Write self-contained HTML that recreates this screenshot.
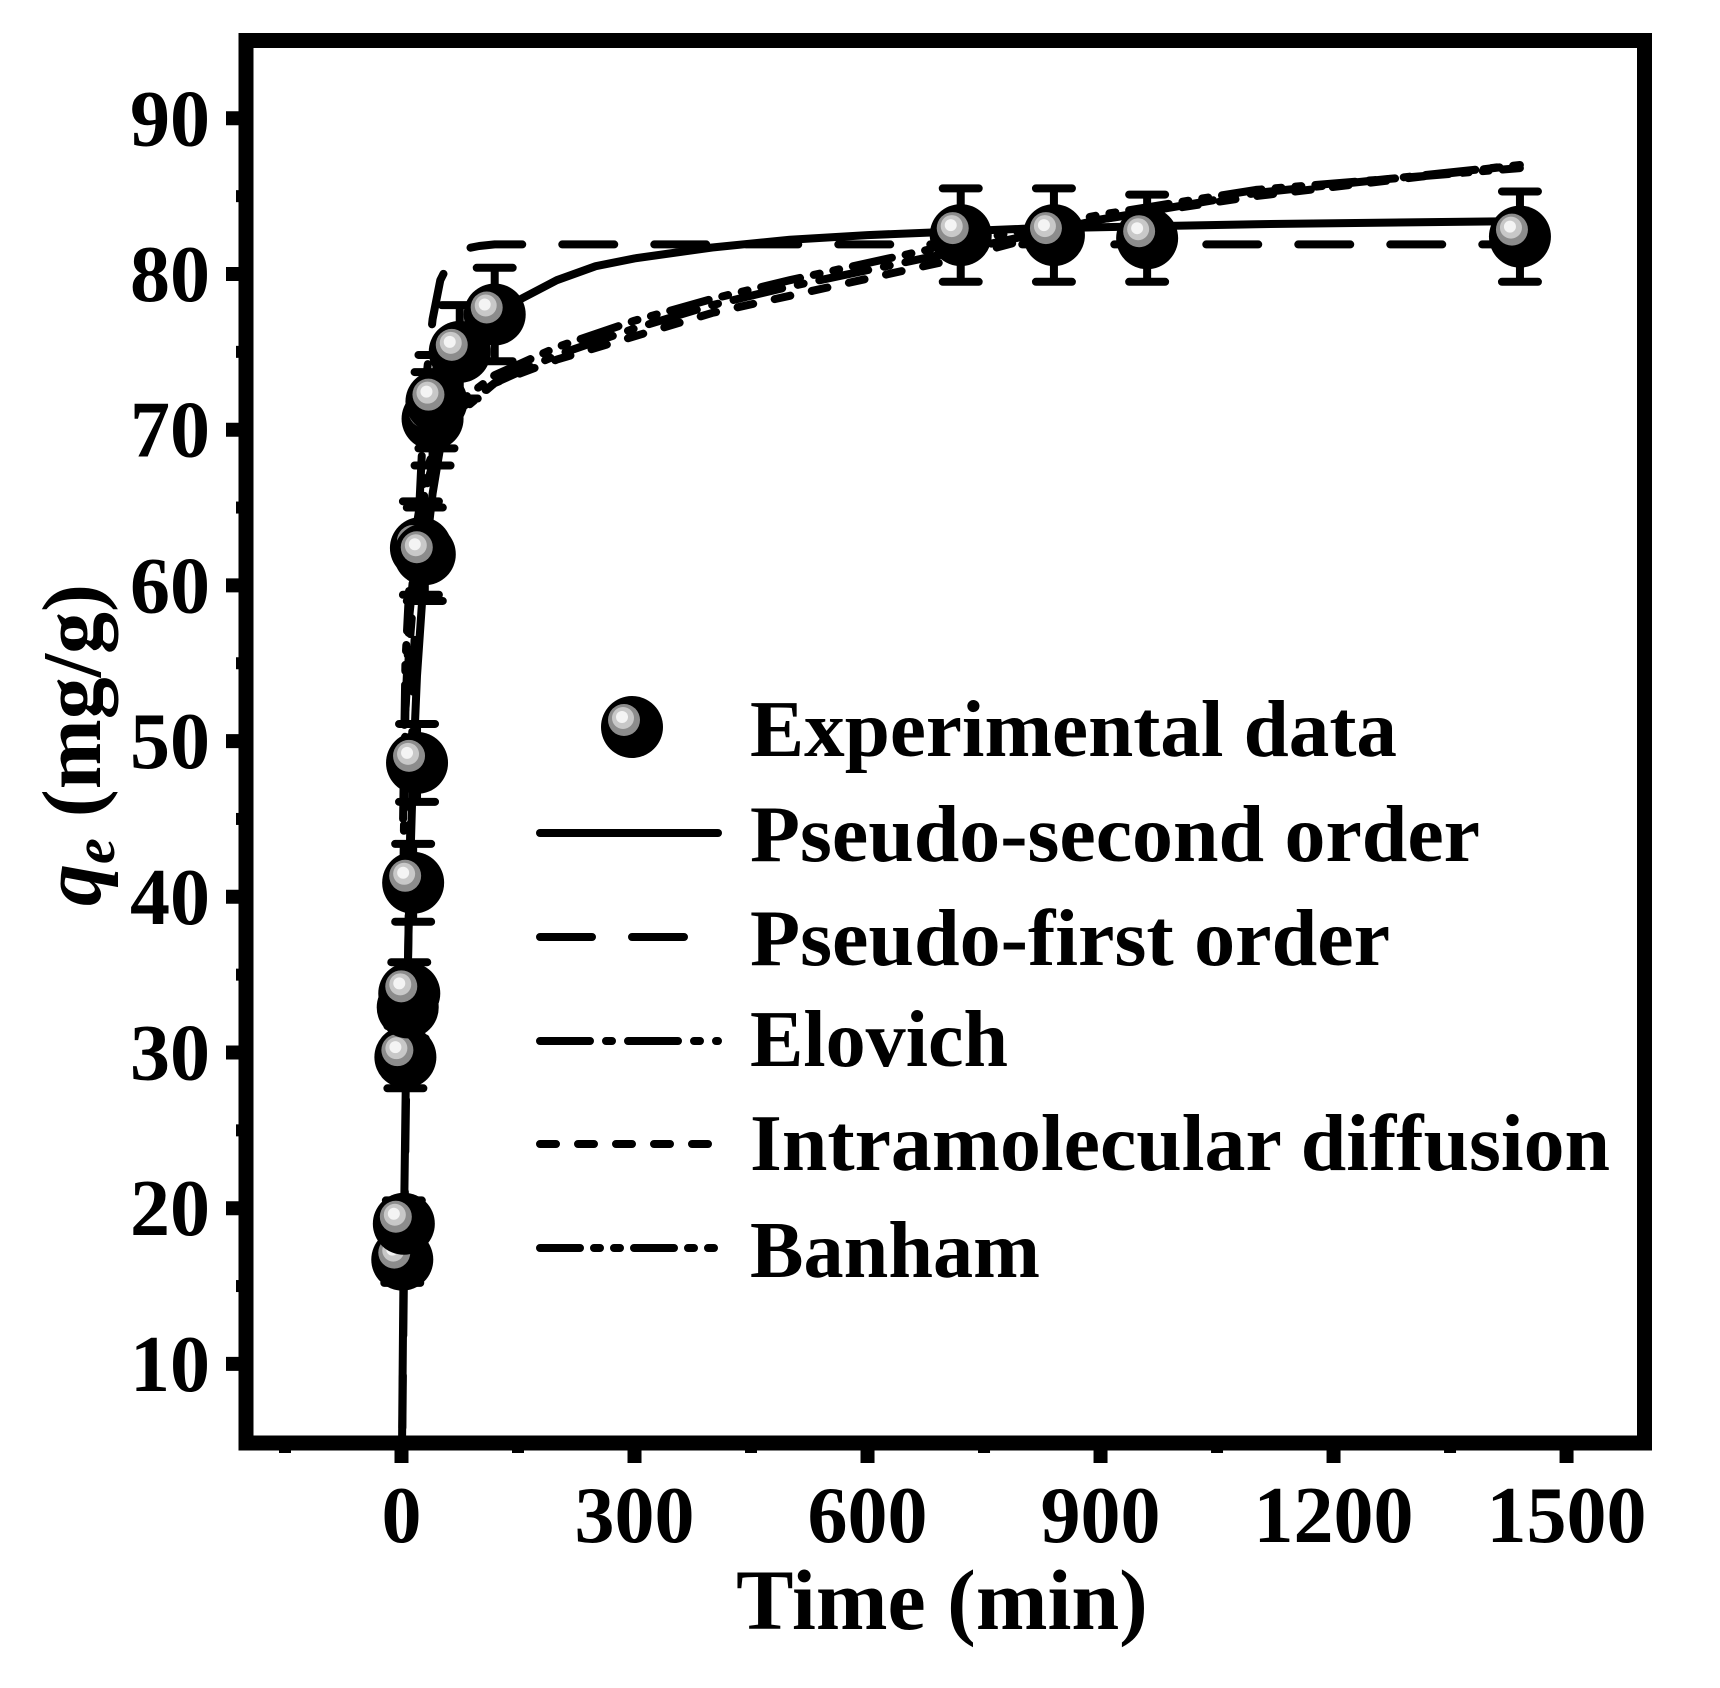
<!DOCTYPE html>
<html><head><meta charset="utf-8"><style>
html,body{margin:0;padding:0;background:#fff;}
svg{display:block;font-family:"Liberation Serif",serif;font-weight:bold;}
</style></head><body>
<svg id="chart" width="1720" height="1688" viewBox="0 0 1720 1688" xmlns="http://www.w3.org/2000/svg">
<defs>
<clipPath id="plotclip"><rect x="253" y="48" width="1384" height="1388"/></clipPath>
</defs>
<g id="grid-ticks"></g>
<g id="curves" clip-path="url(#plotclip)"></g>
<g id="points"></g>
<rect x="246" y="40.5" width="1398.5" height="1402.5" fill="none" stroke="#000" stroke-width="15"/>
<text x="942" y="1629" font-size="86" text-anchor="middle">Time (min)</text>
<text transform="translate(100,745) rotate(-90)" font-size="84" text-anchor="middle"><tspan font-style="italic">q</tspan><tspan font-style="italic" font-size="58" dy="14">e</tspan><tspan dy="-14"> (mg/g)</tspan></text>
<g id="legend"></g>
</svg>
<script>
const xTicks=[0,300,600,900,1200,1500];
const xMinor=[-150,150,450,750,1050,1350];
const yTicks=[10,20,30,40,50,60,70,80,90];
const yMinor=[15,25,35,45,55,65,75,85];
const expT=[1,3,5,8,10,15,20,25,30,40,45,75,120,720,840,960,1440];
const expQ=[16.7,19.0,29.7,32.9,33.8,40.9,48.6,62.4,62.0,70.7,71.8,75.0,77.4,82.5,82.5,82.3,82.4];
const expErr=[1.5,1.5,2,2,2,2.5,2.5,3,3,3,3,3,3,3,3,2.8,2.9];
const psoT=[0,1,2,3,5,7,10,15,20,30,40,50,65,80,100,120,150,200,250,300,400,500,600,800,1100,1440];
const psoQ=[0,7.0,12.9,18.0,26.2,32.7,40,48.5,54.2,61.5,65.9,68.9,71.8,73.8,75.7,77,78.3,79.6,80.5,81.0,81.7,82.2,82.5,82.9,83.2,83.4];
const pfoT=[0,2,5,10,15,20,30,40,50,65,80,100,120,400,800,1440];
const pfoQ=[0,10.7,24.2,41.4,53.6,62.0,72.4,77.1,79.6,81.1,81.6,81.8,81.9,81.9,81.9,81.9];
const eloT=[2,5,10,20,30,50,80,120,200,300,400,500,700,900,1100,1440];
const eloQ=[40,52,58,63,66,69,71.3,73,74.8,76.5,78,79.2,81.3,83.5,85.2,87];
const ipdT=[5,10,20,30,50,80,120,200,300,400,500,700,900,1100,1440];
const ipdQ=[52,56,62,66,69.5,71.5,73,74.5,76,77.5,78.6,80.8,83.5,85,87];
const banT=[2,5,10,20,30,50,80,120,200,300,400,500,700,900,1100,1440];
const banQ=[45,55,60,64,67,70,72,73.5,75.3,77,78.4,79.6,81.8,83.8,85.4,86.8];

const NS="http://www.w3.org/2000/svg";
function X(t){return 401.5+t*0.7767;}
function Y(q){return 118.3+(90-q)*15.57;}
function mk(tag,attrs,parent){const e=document.createElementNS(NS,tag);for(const k in attrs)e.setAttribute(k,attrs[k]);parent.appendChild(e);return e;}

const tg=document.getElementById('grid-ticks');
xTicks.forEach(t=>{
  const l=mk('line',{x1:X(t),x2:X(t),y1:1443,y2:1463,stroke:'#000','stroke-width':14},tg);
  
  
  const tx=mk('text',{x:X(t),y:1542,'font-size':80,'text-anchor':'middle'},tg);
  tx.textContent=t;
  
  
});
xMinor.forEach(t=>{
  const l=mk('line',{x1:X(t),x2:X(t),y1:1443,y2:1453,stroke:'#000','stroke-width':12},tg);
  
  
});
yTicks.forEach(q=>{
  const l=mk('line',{x1:226,x2:246,y1:Y(q),y2:Y(q),stroke:'#000','stroke-width':14},tg);
  
  
  const tx=mk('text',{x:210,y:Y(q)+27,'font-size':80,'text-anchor':'end'},tg);
  tx.textContent=q;
  
  
});
yMinor.forEach(q=>{
  const l=mk('line',{x1:236,x2:246,y1:Y(q),y2:Y(q),stroke:'#000','stroke-width':12},tg);
  
  
});

const styles={
  pso:{dash:'',w:8},
  pfo:{dash:'52 40',w:8},
  elo:{dash:'50 16 6 16',w:8},
  ipd:{dash:'16 22',w:8},
  ban:{dash:'40 14 6 14 6 14',w:8}
};
const cg=document.getElementById('curves');
function curve(ts,qs,st,name){
  const d=ts.map((t,i)=>(i?'L':'M')+X(t).toFixed(1)+' '+Y(qs[i]).toFixed(1)).join(' ');
  const p=mk('path',{d:d,fill:'none',stroke:'#000','stroke-width':st.w,'stroke-dasharray':st.dash,'stroke-linecap':'round','stroke-linejoin':'round'},cg);
  
  
}
curve(ipdT,ipdQ,styles.ipd,'intramolecular-diffusion-curve');
curve(eloT,eloQ,styles.elo,'elovich-curve');
curve(banT,banQ,styles.ban,'banham-curve');
curve(pfoT,pfoQ,styles.pfo,'pseudo-first-order-curve');
curve(psoT,psoQ,styles.pso,'pseudo-second-order-curve');

function marker(cx,cy,parent){
  const g=mk('g',{},parent);
  mk('circle',{cx:cx,cy:cy,r:31,fill:'#000'},g);
  mk('circle',{cx:cx-8,cy:cy-7,r:16,fill:'#8c8c8c'},g);
  mk('circle',{cx:cx-9,cy:cy-9,r:11,fill:'#c8c8c8'},g);
  mk('circle',{cx:cx-10,cy:cy-10,r:6,fill:'#f4f4f4'},g);
  return g;
}
const pg=document.getElementById('points');
expT.forEach((t,i)=>{
  const x=X(t),y=Y(expQ[i]),e=expErr[i]*15.57;
  const eb=mk('path',{d:`M${x} ${y-e} V${y+e} M${x-18} ${y-e} H${x+18} M${x-18} ${y+e} H${x+18}`,stroke:'#000','stroke-width':8,'stroke-linecap':'round',fill:'none'},pg);
  
  
});
expT.forEach((t,i)=>{
  const g=marker(X(t),Y(expQ[i]),pg);
  
  
});

const lg=document.getElementById('legend');
const lm=marker(632,727,lg);


const legNames=['Experimental data','Pseudo-second order','Pseudo-first order','Elovich','Intramolecular diffusion','Banham'];
const legBase=[756,861,965,1066,1170,1277];
const legWidths=[647,730,640,258,860,290];
const legLineY=[833,937,1041,1144,1248];
const legStyles=[styles.pso,styles.pfo,styles.elo,styles.ipd,styles.ban];
legNames.forEach((n,i)=>{
  const tx=mk('text',{x:750,y:legBase[i],'font-size':80,textLength:legWidths[i],lengthAdjust:'spacingAndGlyphs'},lg);
  tx.textContent=n;
  
  
});
legLineY.forEach((y,i)=>{
  const st=legStyles[i];
  const l=mk('line',{x1:540,x2:718,y1:y,y2:y,stroke:'#000','stroke-width':st.w,'stroke-dasharray':st.dash,'stroke-linecap':'round'},lg);
  
  
});
</script>
</body></html>
